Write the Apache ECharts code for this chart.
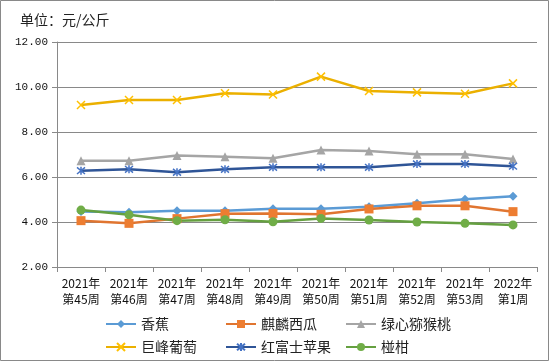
<!DOCTYPE html>
<html><head><meta charset="utf-8">
<script src="https://cdn.jsdelivr.net/npm/echarts@6/dist/echarts.min.js"></script>
<style>html,body{margin:0;padding:0;background:#fff}#c{width:549px;height:361px}</style>
</head><body><div id="c"></div>
<script>
var categories = ['2021年\n第45周','2021年\n第46周','2021年\n第47周','2021年\n第48周','2021年\n第49周','2021年\n第50周','2021年\n第51周','2021年\n第52周','2021年\n第53周','2022年\n第1周'];
var banana = [4.47,4.43,4.50,4.50,4.59,4.59,4.68,4.83,5.01,5.14];
var watermelon = [4.06,3.94,4.15,4.37,4.38,4.34,4.58,4.72,4.72,4.46];
var kiwi = [6.72,6.72,6.96,6.90,6.83,7.20,7.16,7.01,7.01,6.80];
var grape = [9.20,9.42,9.42,9.72,9.67,10.46,9.82,9.76,9.70,10.16];
var apple = [6.28,6.34,6.21,6.34,6.43,6.43,6.43,6.58,6.58,6.48];
var mandarin = [4.53,4.32,4.06,4.10,4.01,4.16,4.09,4.00,3.94,3.87];
var yTicks = [2,4,6,8,10,12];

var CJK = '"Noto Sans CJK SC", "Noto Sans", sans-serif';
var X = 'path://M0,0L10,10M10,0L0,10';
var AST = 'path://M0,0L10,10M10,0L0,10M5,-1L5,11';
function s(name, data, color, lineColor, symbol, size, stroke) {
  return {
    name: name, type: 'line', data: data, symbol: symbol, symbolSize: size,
    color: color,
    lineStyle: {color: lineColor, width: 2.5},
    itemStyle: stroke ? {color: color, borderColor: color, borderWidth: 1.5} : {color: color, borderWidth: 0},
    emphasis: {disabled: true}, animation: false
  };
}
var series = [
  s('香蕉', banana, '#5B9BD5', '#5B9BD5', 'diamond', 9, false),
  s('麒麟西瓜', watermelon, '#ED7D31', '#E07530', 'rect', 9, false),
  s('绿心猕猴桃', kiwi, '#A5A5A5', '#A5A5A5', 'triangle', 9, false),
  s('巨峰葡萄', grape, '#FFC000', '#EBB000', X, 8, true),
  s('红富士苹果', apple, '#4472C4', '#2F5597', AST, 8, true),
  s('椪柑', mandarin, '#70AD47', '#65A040', 'circle', 9, false)
];
var legendPos = [[105,326],[225,326],[345,326],[105,349],[225,349],[345,349]];
var legends = series.map(function(se, i){
  return {data:[se.name], left: legendPos[i][0], top: legendPos[i][1]-9, padding:0,
    itemWidth: 30, itemHeight: 10, itemGap: 4, icon: undefined,
    textStyle:{fontFamily: CJK, fontSize: 14, color:'#222', padding:[0,0,0,0]}};
});
var chart = echarts.init(document.getElementById('c'), null, {renderer:'canvas'});
chart.setOption({
  animation: false,
  backgroundColor: '#fff',
  title: {text: '单位：元/公斤', left: 20, top: 13, padding: 0,
    textStyle: {fontFamily: CJK, fontSize: 14, fontWeight: 'normal', color: '#222'}},
  legend: legends,
  grid: {left: 57, right: 12, top: 42, bottom: 94, containLabel: false},
  xAxis: {type: 'category', data: categories, boundaryGap: true,
    axisLine: {lineStyle: {color: '#898989', width: 1}},
    axisTick: {show: true, length: 5, lineStyle: {color: '#898989'}},
    axisLabel: {interval: 0, fontFamily: CJK, fontSize: 12, color: '#111', lineHeight: 16, margin: 8}},
  yAxis: {type: 'value', min: yTicks[0], max: yTicks[yTicks.length-1], interval: 2,
    axisLine: {show: true, lineStyle: {color: '#898989', width: 1}},
    axisTick: {show: true, length: 5, lineStyle: {color: '#898989'}},
    splitLine: {lineStyle: {color: '#898989', width: 1}},
    axisLabel: {formatter: function(v){return v.toFixed(2);}, fontFamily: '"Liberation Mono", monospace', fontSize: 11, color: '#111', margin: 9}},
  graphic: [{type:'rect', shape:{x:0.5,y:0.5,width:548,height:360}, style:{fill:'none', stroke:'#898989', lineWidth:1}, silent:true, z:-1}],
  series: series
});
</script></body></html>
